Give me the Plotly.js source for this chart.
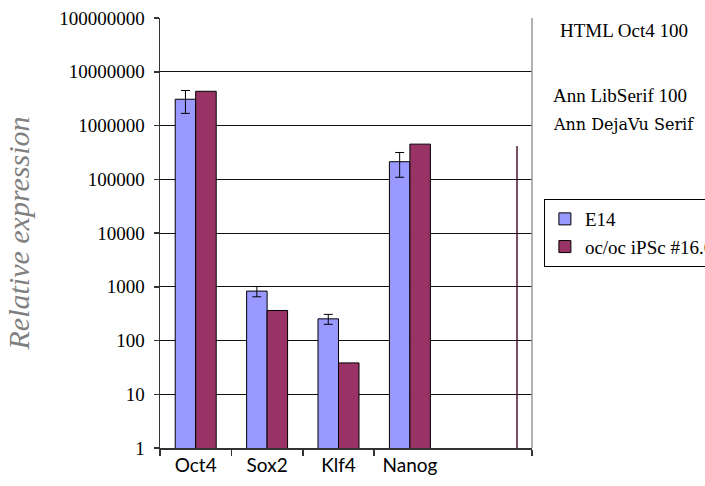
<!DOCTYPE html>
<html>
<head>
<meta charset="utf-8">
<script src="https://cdn.plot.ly/plotly-3.0.1.min.js"></script>
<style>
html,body{margin:0;padding:0;background:#fff;}
#chart{width:705px;height:486px;}
#probe{position:absolute;left:560px;top:20px;font-family:'Liberation Serif';font-size:19px;z-index:10;}
</style>
</head>
<body>
<div id="probe">HTML Oct4 100</div>
<div id="chart"></div>
<script>
var categories = ["Oct4", "Sox2", "Klf4", "Nanog"];
var catPositions = [0, 1, 2, 3];
var e14Values = [3080000, 830, 253, 212000];
var e14Errors = [1400000, 180, 53, 103000];
var ipscValues = [4330000, 362, 38.3, 450000];
var seriesNames = ["E14", "oc/oc iPSc #16.6"];
var strayLineX = [4.5, 4.5];
var strayLineY = [1, 415000];
var yTickVals = [1, 10, 100, 1000, 10000, 100000, 1000000, 10000000, 100000000];
var yTickText = ["1", "10", "100", "1000", "10000", "100000", "1000000", "10000000", "100000000"];
var xBoundaries = [-0.5, 0.5, 1.5, 2.5, 4.71];

var fam = "Liberation Serif";

var traces = [
  {
    type: "bar", name: seriesNames[0], x: catPositions, y: e14Values,
    marker: {color: "#9999ff", line: {color: "#000", width: 1}},
    error_y: {type: "data", array: e14Errors, visible: true, color: "#000", thickness: 1, width: 4.5}
  },
  {
    type: "bar", name: seriesNames[1], x: catPositions, y: ipscValues,
    marker: {color: "#993366", line: {color: "#000", width: 1}}
  },
  {
    type: "scatter", mode: "lines", x: strayLineX, y: strayLineY, showlegend: false,
    line: {color: "#4a1530", width: 1.5}, hoverinfo: "skip"
  }
];

var layout = {
  width: 705, height: 486,
  margin: {l: 160, r: 173, t: 18, b: 38, autoexpand: false},
  paper_bgcolor: "#fff", plot_bgcolor: "#fff",
  barmode: "group", bargap: 0.426, bargroupgap: 0,
  font: {family: fam, size: 19, color: "#000"},
  xaxis: {
    range: [-0.5, 4.71], tickmode: "array", tickvals: catPositions, ticktext: categories,
    ticks: "", showgrid: false, zeroline: false, showline: true, linecolor: "#333", linewidth: 1.5,
    tickfont: {family: "Lato", size: 19, color: "#000"}, automargin: false,
    minor: {tickmode: "array", tickvals: xBoundaries, ticks: "outside", ticklen: 6, tickcolor: "#333", tickwidth: 1.5, showgrid: false}
  },
  yaxis: {
    type: "log", range: [0, 8], tickmode: "array", tickvals: yTickVals, ticktext: yTickText,
    ticks: "outside", ticklen: 5, tickcolor: "#333", tickwidth: 1.5, ticklabelstandoff: 5,
    showgrid: true, gridcolor: "#111", gridwidth: 1, automargin: false,
    showline: true, linecolor: "#333", linewidth: 1.5, zeroline: false,
    tickfont: {family: fam, size: 19, color: "#000"},
    title: {text: "<i>Relative expression</i>", font: {family: fam, size: 30, color: "#808080"}, standoff: 20}
  },
  annotations: [
    {xref: "paper", yref: "paper", x: 1.05, y: 0.85, xanchor: "left", showarrow: false, text: "Ann LibSerif 100", font: {family: "Liberation Serif", size: 19}},
    {xref: "paper", yref: "paper", x: 1.05, y: 0.78, xanchor: "left", showarrow: false, text: "Ann DejaVu Serif", font: {family: "DejaVu Serif", size: 16}}
  ],
  shapes: [
    {type: "line", xref: "paper", yref: "paper", x0: 1, x1: 1, y0: 0, y1: 1, line: {color: "#999", width: 1.5}}
  ],
  legend: {
    x: 1.032, y: 0.579, xanchor: "left", yanchor: "top",
    bgcolor: "#fff", bordercolor: "#000", borderwidth: 1,
    font: {family: fam, size: 19, color: "#000"}
  },
  showlegend: true
};

Plotly.newPlot("chart", traces, layout, {displayModeBar: false, staticPlot: true});
</script>
</body>
</html>
